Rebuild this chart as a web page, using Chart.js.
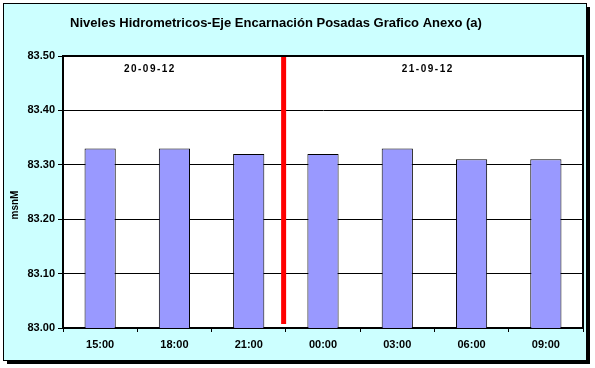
<!DOCTYPE html>
<html>
<head>
<meta charset="utf-8">
<script src="https://cdn.jsdelivr.net/npm/chart.js@4"></script>
<style>
  html, body { margin: 0; padding: 0; background: #fff; }
  #wrap { width: 595px; height: 368px; }
</style>
</head>
<body>
<div id="wrap"><canvas id="nivelChart"></canvas></div>
<script>
const titleText = "Niveles Hidrometricos-Eje Encarnación Posadas Grafico Anexo (a)";
const hours = ["15:00", "18:00", "21:00", "00:00", "03:00", "06:00", "09:00"];
const levels = [83.33, 83.33, 83.32, 83.32, 83.33, 83.31, 83.31];
const yTicks = [83.0, 83.1, 83.2, 83.3, 83.4, 83.5];
// day labels sit at fractional category positions, the divider between 21:00 and 00:00
const days = [
  { text: "20-09-12", at: 0.67 },
  { text: "21-09-12", at: 4.41 },
];
const dayBreak = 2.47;

const font = "'Liberation Sans', Arial, sans-serif";

const framePlugin = {
  id: "frame",
  beforeDraw(chart) {
    const ctx = chart.ctx;
    ctx.save();
    ctx.fillStyle = "#fff";
    ctx.fillRect(0, 0, chart.width, chart.height);
    // drop shadow
    ctx.fillStyle = "#000";
    ctx.fillRect(587, 7, 3, 357);
    ctx.fillRect(7, 361, 583, 3);
    ctx.fillStyle = "#ccffff";
    ctx.fillRect(3, 3, 584, 358);
    ctx.strokeStyle = "#000";
    ctx.lineWidth = 1;
    ctx.strokeRect(3.5, 3.5, 583, 357);
    // plot area background
    const a = chart.chartArea;
    ctx.fillStyle = "#fff";
    ctx.fillRect(a.left, a.top, a.right - a.left, a.bottom - a.top);
    // title
    ctx.fillStyle = "#000";
    ctx.font = "bold 13px " + font;
    ctx.textAlign = "center";
    ctx.textBaseline = "middle";
    ctx.fillText(titleText, 276, 23);
    // y axis title
    ctx.translate(15, 205);
    ctx.rotate(-Math.PI / 2);
    ctx.font = "bold 10px " + font;
    ctx.fillText("msnM", 0, 0);
    ctx.restore();
  },
  afterDatasetsDraw(chart) {
    const ctx = chart.ctx;
    const a = chart.chartArea;
    const x = chart.scales.x;
    ctx.save();
    ctx.strokeStyle = "#ff0000";
    ctx.lineWidth = 5;
    ctx.beginPath();
    ctx.moveTo(x.getPixelForValue(dayBreak), a.top + 1);
    ctx.lineTo(x.getPixelForValue(dayBreak), a.bottom - 4);
    ctx.stroke();
    ctx.fillStyle = "#000";
    ctx.font = "bold 10px " + font;
    ctx.letterSpacing = "1.5px";
    ctx.textAlign = "center";
    ctx.textBaseline = "middle";
    days.forEach(d => ctx.fillText(d.text, x.getPixelForValue(d.at), a.top + 13));
    ctx.letterSpacing = "0px";
    // top and right edges of the plot
    ctx.strokeStyle = "#000";
    ctx.lineWidth = 2;
    ctx.beginPath();
    ctx.moveTo(a.left, a.top);
    ctx.lineTo(a.right, a.top);
    ctx.lineTo(a.right, a.bottom);
    ctx.stroke();
    ctx.restore();
  },
};

new Chart(document.getElementById("nivelChart"), {
  type: "bar",
  data: {
    labels: hours,
    datasets: [
      {
        data: levels,
        backgroundColor: "#9999ff",
        borderColor: "#000",
        borderWidth: 1,
        barPercentage: 0.42,
        categoryPercentage: 1,
      },
    ],
  },
  options: {
    responsive: true,
    maintainAspectRatio: false,
    animation: false,
    layout: { padding: { left: 0, right: 12, top: 56, bottom: 10 } },
    plugins: {
      legend: { display: false },
      tooltip: { enabled: false },
    },
    scales: {
      x: {
        offset: true,
        grid: {
          offset: true,
          drawOnChartArea: false,
          tickLength: 4,
          color: "#000",
        },
        border: { color: "#000", width: 2 },
        ticks: {
          color: "#000",
          font: { family: font, size: 11, weight: "bold" },
          padding: 6,
          maxRotation: 0,
        },
        afterFit(scale) {
          scale.height = 30;
        },
      },
      y: {
        min: 83.0,
        max: 83.5,
        afterBuildTicks(scale) {
          scale.ticks = yTicks.map(v => ({ value: v }));
        },
        grid: { color: "#000", lineWidth: 1, tickLength: 5 },
        border: { color: "#000", width: 2 },
        ticks: {
          color: "#000",
          font: { family: font, size: 11, weight: "bold" },
          padding: 3,
          callback: v => v.toFixed(2),
        },
        afterFit(scale) {
          scale.width = 63;
        },
      },
    },
  },
  plugins: [framePlugin],
});
</script>
</body>
</html>
